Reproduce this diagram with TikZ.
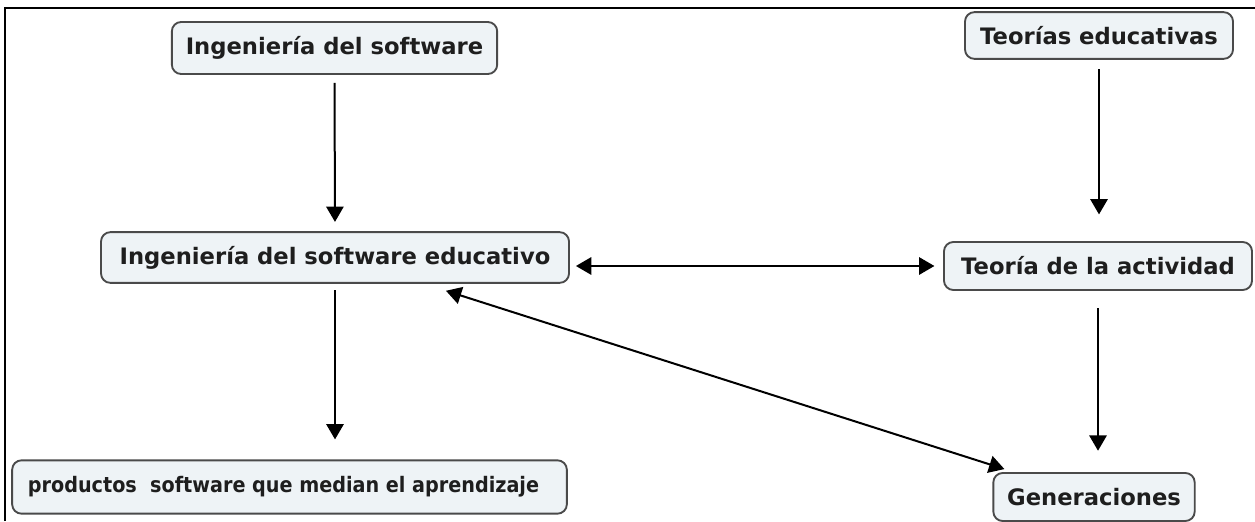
\documentclass[tikz,border=0pt]{standalone}
\usepackage{fontspec}
\setmainfont{DejaVu Sans}
\newfontfamily\condfont{DejaVu Sans Condensed}
\usetikzlibrary{arrows.meta,calc}
\definecolor{boxfill}{HTML}{EEF3F6}
\definecolor{boxline}{HTML}{4A4A4A}
\definecolor{txt}{HTML}{1E1E1E}
\begin{document}
\begin{tikzpicture}[x=0.75pt,y=-0.75pt,
  concept/.style={draw=boxline, line width=1.4pt, fill=boxfill, rounded corners=7pt,
    inner sep=0pt, text=txt, font=\fontsize{17}{20}\selectfont\bfseries},
  narrow/.style={font=\condfont\fontsize{16}{19}\selectfont\bfseries},
  link/.style={line width=1.5pt, -{Triangle[length=11.5pt,width=13pt]}},
  dlink/.style={line width=1.5pt, {Triangle[length=11.5pt,width=13pt]}-{Triangle[length=11.5pt,width=13pt]}}]
\useasboundingbox (0,0) rectangle (1255,521);
\draw[line width=1.5pt] (5,521) -- (5,8) -- (1255,8);

\node[concept, minimum width=244pt, minimum height=39pt] (isw) at (334.5,48) {Ingeniería del software};
\node[concept, minimum width=201pt, minimum height=35pt] (teo) at (1099,35.5) {Teorías educativas};
\node[concept, minimum width=351pt, minimum height=38pt] (ise) at (335,257.5) {Ingeniería del software educativo};
\node[concept, minimum width=231pt, minimum height=36pt] (act) at (1098,266) {Teoría de la actividad};
\node[concept, narrow, minimum width=416pt, minimum height=40pt] (prod) at (289.5,487) {productos\ \ software que median el aprendizaje\hspace*{9pt}};
\node[concept, minimum width=151pt, minimum height=36pt] (gen) at (1094,497) {Generaciones};

\draw[link, shorten <=6pt, shorten >=7pt] (isw.south) -- (ise.north);
\draw[link, shorten <=7pt, shorten >=20pt] (teo.south) -- (teo.south |- act.north);
\draw[dlink, shorten <=4.5pt, shorten >=6.5pt] (act.west -| ise.east) -- (act.west);
\draw[link, shorten <=5pt, shorten >=15pt] (ise.south) -- (ise.south |- prod.north);
\draw[link, shorten <=13pt, shorten >=16pt] (act.south) -- (act.south |- gen.north);
\draw[dlink] ($(ise.south east)+(-124,7)$) -- ($(gen.north west)+(12,-3)$);
\end{tikzpicture}
\end{document}
